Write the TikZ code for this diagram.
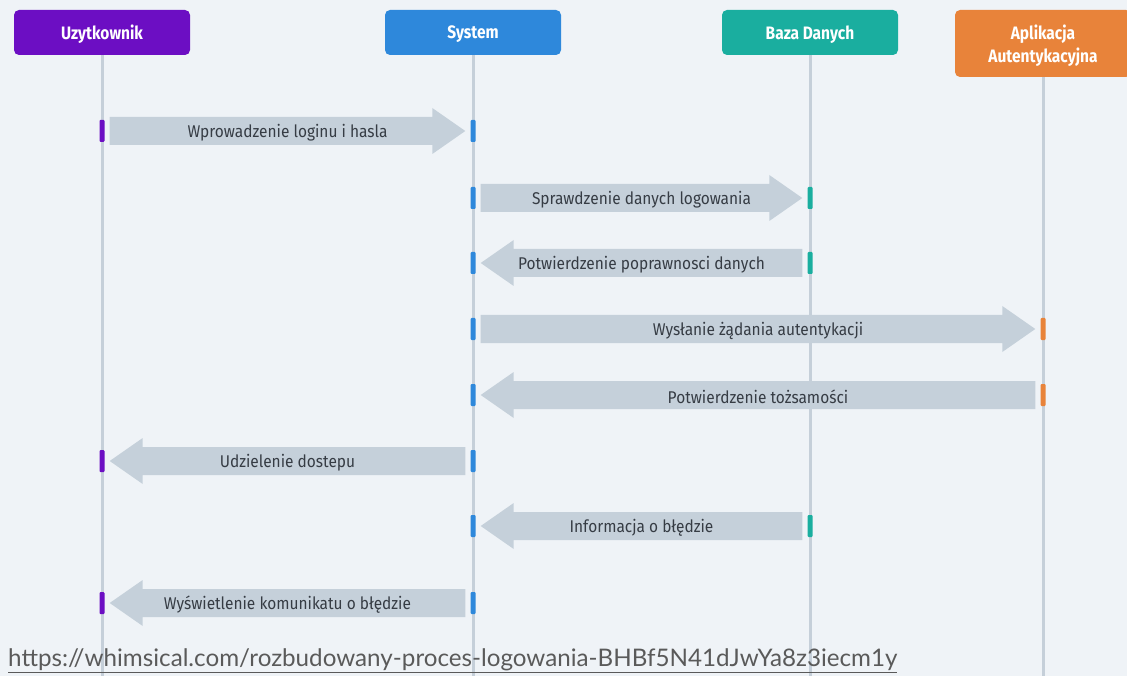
\documentclass[tikz,border=0pt]{standalone}
\usepackage{fontspec}
\setmainfont{Fira Sans}
\newfontfamily\headfont[FakeStretch=0.86]{Fira Sans}
\newfontfamily\msgfont[FakeStretch=0.91]{Fira Sans}
\newfontfamily\urlfont{Lato}
\usetikzlibrary{calc}
\definecolor{bgc}{HTML}{EFF3F7}
\definecolor{ucol}{HTML}{6C0EC3}
\definecolor{scol}{HTML}{2E88DB}
\definecolor{bcol}{HTML}{1AAE9F}
\definecolor{acol}{HTML}{E8833A}
\definecolor{msgc}{HTML}{C5D0DA}
\definecolor{lifec}{HTML}{C5CFD9}
\definecolor{txtc}{HTML}{363C44}
\definecolor{urlc}{HTML}{5A5A5A}
\tikzset{
  head/.style={fill=#1, rounded corners=5pt, text=white, minimum width=176pt, inner sep=0pt,
     font=\headfont\bfseries\fontsize{18}{23}\selectfont, align=center},
  headtext/.style={text=white, inner sep=0pt, yshift=-2pt,
     font=\headfont\bfseries\fontsize{18}{23}\selectfont, align=center},
  life/.style={draw=lifec, line width=3pt},
  actbar/.style={fill=#1, rounded corners=1pt, minimum width=5pt, minimum height=22pt, inner sep=0pt},
  msgfill/.style={fill=msgc},
  msgtext/.style={text=txtc, font=\msgfont\fontsize{17}{20}\selectfont, inner sep=0pt, yshift=-2pt},
}
\newcommand\rmsg[4]{%
  \fill[msgfill] let \p1=(#1.east), \p2=(#2.west) in
    (\x1+5pt,\y1+14pt) -- (\x2-38pt,\y1+14pt) -- (\x2-38pt,\y1+23pt) -- (\x2-5pt,\y1)
    -- (\x2-38pt,\y1-23pt) -- (\x2-38pt,\y1-14pt) -- (\x1+5pt,\y1-14pt) -- cycle;
  \path let \p1=(#1.east), \p2=(#2.west) in
    node[msgtext] (#3) at ({0.5*(\x1+\x2)},\y1) {#4};}
\newcommand\lmsg[4]{%
  \fill[msgfill] let \p1=(#2.east), \p2=(#1.west) in
    (\x1+5pt,\y1) -- (\x1+38pt,\y1+23pt) -- (\x1+38pt,\y1+14pt) -- (\x2-5pt,\y1+14pt)
    -- (\x2-5pt,\y1-14pt) -- (\x1+38pt,\y1-14pt) -- (\x1+38pt,\y1-23pt) -- cycle;
  \path let \p1=(#2.east), \p2=(#1.west) in
    node[msgtext] (#3) at ({0.5*(\x1+\x2)},\y1) {#4};}
\begin{document}
\begin{tikzpicture}[x=1pt,y=-1pt]
\useasboundingbox (0,0) rectangle (1127,676);
\fill[bgc] (0,0) rectangle (1127,676);
\clip (0,0) rectangle (1127,676);
% participants
\node[head=ucol, minimum height=45pt] (U) at (102,32.5) {};
\node[head=scol, minimum height=45pt] (S) at (473,32.5) {};
\node[head=bcol, minimum height=45pt] (B) at (810,32.5) {};
\node[head=acol, minimum height=67pt] (A) at (1043,43.5) {};
\node[headtext] (Ut) at (U.center) {Uzytkownik};
\node[headtext] (St) at (S.center) {System};
\node[headtext] (Bt) at (B.center) {Baza Danych};
\node[headtext] (At) at (A.center) {Aplikacja\\Autentykacyjna};
\coordinate (bot) at (0,676);
\draw[life] (U.south) -- (U.south |- bot);
\draw[life] (S.south) -- (S.south |- bot);
\draw[life] (B.south) -- (B.south |- bot);
\draw[life] (A.south) -- (A.south |- bot);
% activation bars
\node[actbar=ucol] (u1) at (102,131) {};
\node[actbar=scol] (s1) at (473,131) {};
\node[actbar=scol] (s2) at (473,198) {};
\node[actbar=bcol] (b2) at (810,198) {};
\node[actbar=scol] (s3) at (473,263) {};
\node[actbar=bcol] (b3) at (810,263) {};
\node[actbar=scol] (s4) at (473,329) {};
\node[actbar=acol] (a4) at (1043,329) {};
\node[actbar=scol] (s5) at (473,395) {};
\node[actbar=acol] (a5) at (1043,395) {};
\node[actbar=scol] (s6) at (473,461) {};
\node[actbar=ucol] (u6) at (102,461) {};
\node[actbar=scol] (s7) at (473,526) {};
\node[actbar=bcol] (b7) at (810,526) {};
\node[actbar=scol] (s8) at (473,603) {};
\node[actbar=ucol] (u8) at (102,603) {};
% messages
\rmsg{u1}{s1}{m1}{Wprowadzenie loginu i hasla}
\rmsg{s2}{b2}{m2}{Sprawdzenie danych logowania}
\lmsg{b3}{s3}{m3}{Potwierdzenie poprawnosci danych}
\rmsg{s4}{a4}{m4}{Wysłanie żądania autentykacji}
\lmsg{a5}{s5}{m5}{Potwierdzenie tożsamości}
\lmsg{s6}{u6}{m6}{Udzielenie dostepu}
\lmsg{b7}{s7}{m7}{Informacja o błędzie}
\lmsg{s8}{u8}{m8}{Wyświetlenie komunikatu o błędzie}
% url
\node[anchor=base west, inner sep=0pt, text=urlc, font=\urlfont\fontsize{24.2}{27}\selectfont] (url) at (8,666)
  {\underline{https://whimsical.com/rozbudowany-proces-logowania-BHBf5N41dJwYa8z3iecm1y}};
\end{tikzpicture}
\end{document}
